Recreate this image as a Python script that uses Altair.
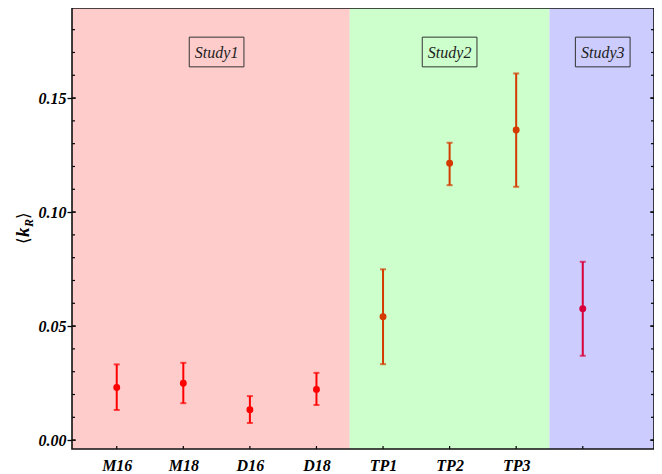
import altair as alt
import pandas as pd

# ---------------- data ----------------
cats = ["M16", "M18", "D16", "D18", "TP1", "TP2", "TP3", ""]
xpos = [1, 2, 3, 4, 5, 6, 7, 8]
group = ["Study1"] * 4 + ["Study2"] * 3 + ["Study3"]
mean = [0.0231, 0.0249, 0.0133, 0.0222, 0.0541, 0.1214, 0.1360, 0.0576]
lower = [0.0132, 0.0162, 0.0075, 0.0154, 0.0333, 0.1118, 0.1111, 0.0370]
upper = [0.0332, 0.0339, 0.0193, 0.0295, 0.0749, 0.1304, 0.1608, 0.0782]

region_names = ["Study1", "Study2", "Study3"]
region_start = [0.328, 4.5, 7.5]
region_end = [4.5, 7.5, 9.07]
label_x = [2.5, 6.0, 8.3]

major_ticks = [0.0, 0.05, 0.10, 0.15]
minor_ticks = [0.00, 0.01, 0.02, 0.03, 0.04, 0.05, 0.06, 0.07, 0.08, 0.09,
               0.10, 0.11, 0.12, 0.13, 0.14, 0.15, 0.16, 0.17, 0.18]

# ---------------- layout / style ----------------
W, H = 582, 441
XD = [0.328, 9.07]
YD = [-0.0039, 0.1895]
FONT = "Liberation Serif"
bg_colors = ["#FFCCCC", "#CCFFCC", "#CCCCFF"]
pt_colors = ["#FF0000", "#D43A00", "#D8003A"]

pts = pd.DataFrame({"x": xpos, "cat": cats, "group": group,
                    "mean": mean, "lower": lower, "upper": upper})
regions = pd.DataFrame({"region": region_names, "start": region_start,
                        "end": region_end, "lx": label_x})
majors = pd.DataFrame({"v": major_ticks})
minors = pd.DataFrame({"v": minor_ticks})
one = pd.DataFrame({"a": [0]})

xs = alt.Scale(domain=XD, nice=False, zero=False)
ys = alt.Scale(domain=YD, nice=False, zero=False)
col = alt.Color("group:N", scale=alt.Scale(domain=region_names, range=pt_colors), legend=None)

label_expr = "[" + ",".join("'" + c + "'" for c in [""] + cats) + "][datum.value]"

xa = alt.Axis(values=xpos[:7], labelExpr=label_expr, ticks=False, domain=False, grid=False,
              title=None, labelFont=FONT, labelFontSize=16, labelFontStyle="italic",
              labelFontWeight="bold", labelColor="black", labelPadding=8)
ya = alt.Axis(values=major_ticks, format=".2f", ticks=True, tickSize=5, tickColor="black",
              tickWidth=1.3, domain=False, grid=False, title=None, labelFont=FONT,
              labelFontSize=16, labelFontStyle="italic", labelFontWeight="bold",
              labelColor="black", labelPadding=1)


def X(f):
    return alt.X(f, scale=xs, axis=xa)


def Y(f):
    return alt.Y(f, scale=ys, axis=ya)


bg = alt.Chart(regions).mark_rect().encode(
    x=X("start:Q"), x2="end:Q",
    y=alt.value(0), y2=alt.value(H),
    fill=alt.Fill("region:N", scale=alt.Scale(domain=region_names, range=bg_colors), legend=None),
)

bars = alt.Chart(pts).mark_rule(strokeWidth=2).encode(
    x=X("x:Q"), y=Y("lower:Q"), y2="upper:Q", color=col)
cap_lo = alt.Chart(pts).mark_tick(orient="horizontal", size=6, thickness=2).encode(
    x=X("x:Q"), y=Y("lower:Q"), color=col)
cap_hi = alt.Chart(pts).mark_tick(orient="horizontal", size=6, thickness=2).encode(
    x=X("x:Q"), y=Y("upper:Q"), color=col)
dots = alt.Chart(pts).mark_circle(size=48, opacity=1).encode(
    x=X("x:Q"), y=Y("mean:Q"), color=col)


# tick marks (inward)
def yticks(data, x0, x1):
    return alt.Chart(data).mark_rule(color="black", strokeWidth=1.2).encode(
        y=Y("v:Q"), x=alt.value(x0), x2=alt.value(x1))


lt_min = yticks(minors, 0, 3)
lt_maj = yticks(majors, 0, 4)
rt_min = yticks(minors, W - 3, W)
rt_maj = yticks(majors, W - 4, W)
bt = alt.Chart(pts).mark_rule(color="black", strokeWidth=1.2).encode(
    x=X("x:Q"), y=alt.value(H - 3), y2=alt.value(H))

# study labels with boxes
boxes = alt.Chart(regions).mark_point(
    shape="M-1,-0.543H1V0.543H-1Z", size=2992, filled=False, stroke="#333333",
    strokeWidth=1, opacity=1).encode(
    x=X("lx:Q"), y=alt.value(44))
labels = alt.Chart(regions).mark_text(
    font=FONT, fontStyle="italic", fontSize=16, color="#222222", baseline="middle", dy=1).encode(
    x=X("lx:Q"), y=alt.value(44), text="region:N")

# frame
frame = alt.Chart(one).mark_rect(filled=False, stroke="#111111", strokeWidth=1.6).encode(
    x=alt.value(0), x2=alt.value(W), y=alt.value(0), y2=alt.value(H))

# y-axis title <k_R>
t1 = alt.Chart(one).mark_text(text="⟨", font="DejaVu Serif", fontSize=17,
                              angle=270, align="left",
                              baseline="alphabetic", color="black").encode(
    x=alt.value(-43), y=alt.value(236))
t1b = alt.Chart(one).mark_text(text="k", font=FONT, fontSize=19, fontStyle="italic",
                               fontWeight="bold", angle=270, align="left",
                               baseline="alphabetic", color="black").encode(
    x=alt.value(-43), y=alt.value(229))
t2 = alt.Chart(one).mark_text(text="R", font=FONT, fontSize=12, fontStyle="italic",
                              fontWeight="bold", angle=270, align="left",
                              baseline="alphabetic", color="black").encode(
    x=alt.value(-39), y=alt.value(219))
t3 = alt.Chart(one).mark_text(text="⟩", font="DejaVu Serif", fontSize=17,
                              angle=270, align="left", baseline="alphabetic",
                              color="black").encode(
    x=alt.value(-43), y=alt.value(211))

chart = alt.layer(
    bg, bars, cap_lo, cap_hi, dots, lt_min, lt_maj, rt_min, rt_maj, bt,
    boxes, labels, frame, t1, t1b, t2, t3
).properties(
    width=W, height=H,
    autosize=alt.AutoSizeParams(type="none"),
    padding={"left": 64, "top": 0, "right": 0, "bottom": 26},
    background="white",
).configure_view(strokeWidth=0)

chart.save("out.html", embed_options={"renderer": "svg", "actions": False})
